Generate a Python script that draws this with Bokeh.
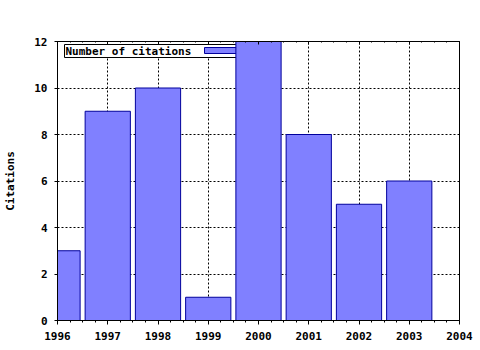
from bokeh.plotting import figure
from bokeh.models import (Range1d, FixedTicker, LinearAxis, BoxAnnotation, Label, Grid)
from bokeh.embed import file_html
from bokeh.resources import INLINE

years = [1996, 1997, 1998, 1999, 2000, 2001, 2002, 2003]
citations = [3, 9, 10, 1, 12, 8, 5, 6]
x_ticks = [1996, 1997, 1998, 1999, 2000, 2001, 2002, 2003, 2004]
y_ticks = [0, 2, 4, 6, 8, 10, 12]
series_name = "Number of citations"
y_title = "Citations"

FONT = "DejaVu Sans Mono"
FILL = "#8080ff"
EDGE = "#00009c"

p = figure(width=480, height=350, output_backend="svg", toolbar_location=None,
           x_range=Range1d(1996, 2004), y_range=Range1d(0, 12),
           min_border_left=57, min_border_right=21, min_border_top=41, min_border_bottom=30,
           x_axis_type=None, y_axis_type=None)
p.background_fill_color = "white"
p.border_fill_color = "white"
p.outline_line_color = "black"
p.outline_line_width = 1

minor = [1996 + i * 0.25 for i in range(33)]
xt = FixedTicker(ticks=x_ticks, minor_ticks=minor)
yt = FixedTicker(ticks=y_ticks)

xb = LinearAxis(ticker=xt)
xb.major_tick_out = 4
xb.major_tick_in = 0
xb.minor_tick_out = 2
xb.minor_tick_in = 0
xb.major_label_standoff = 7
p.add_layout(xb, "below")

xa = LinearAxis(ticker=xt)
xa.major_tick_out = 0
xa.major_tick_in = 3
xa.minor_tick_out = 0
xa.minor_tick_in = 1
p.add_layout(xa, "above")

yl = LinearAxis(ticker=yt, axis_label=y_title)
yl.major_tick_out = 3
yl.major_tick_in = 0
yl.minor_tick_line_color = None
yl.major_label_standoff = 7
yl.axis_label_standoff = 14
p.add_layout(yl, "left")

for ax in (xb, xa, yl):
    ax.axis_line_color = "black"
    ax.major_tick_line_color = "black"
    ax.minor_tick_line_color = "black" if ax is not yl else None
    ax.major_label_text_font = FONT
    ax.major_label_text_font_style = "bold"
    ax.major_label_text_font_size = "11px" if ax is not xa else "1px"
    ax.major_label_text_color = "black" if ax is not xa else None
    ax.axis_label_text_font = FONT
    ax.axis_label_text_font_style = "bold"
    ax.axis_label_text_font_size = "11px"
    ax.axis_label_text_color = "black"

p.add_layout(Grid(dimension=0, ticker=xt, grid_line_color="black",
                  grid_line_dash="2 2", grid_line_width=1))
p.add_layout(Grid(dimension=1, ticker=yt, grid_line_color="black",
                  grid_line_dash="2 2", grid_line_width=1))

# legend (text then swatch), drawn under the bars; screen units relative to frame
box = BoxAnnotation(left=7, right=193, top=276, bottom=263,
                    left_units="screen", right_units="screen",
                    top_units="screen", bottom_units="screen",
                    fill_color="white", fill_alpha=1,
                    line_color="black", line_alpha=1, line_width=1,
                    level="underlay")
p.add_layout(box)
sw = BoxAnnotation(left=147, right=188, top=273, bottom=267,
                   left_units="screen", right_units="screen",
                   top_units="screen", bottom_units="screen",
                   fill_color=FILL, fill_alpha=1,
                   line_color=EDGE, line_alpha=1, line_width=1,
                   level="underlay")
p.add_layout(sw)
lab = Label(x=8, y=269.5, x_units="screen", y_units="screen", text=series_name,
            text_font=FONT, text_font_style="bold", text_font_size="11px",
            text_color="black",
            text_baseline="middle", text_align="left", level="underlay")
p.add_layout(lab)

p.vbar(x=years, top=citations, width=0.9, bottom=0,
       fill_color=FILL, line_color=EDGE, line_width=1)

open("out.html", "w").write(file_html(p, INLINE))
